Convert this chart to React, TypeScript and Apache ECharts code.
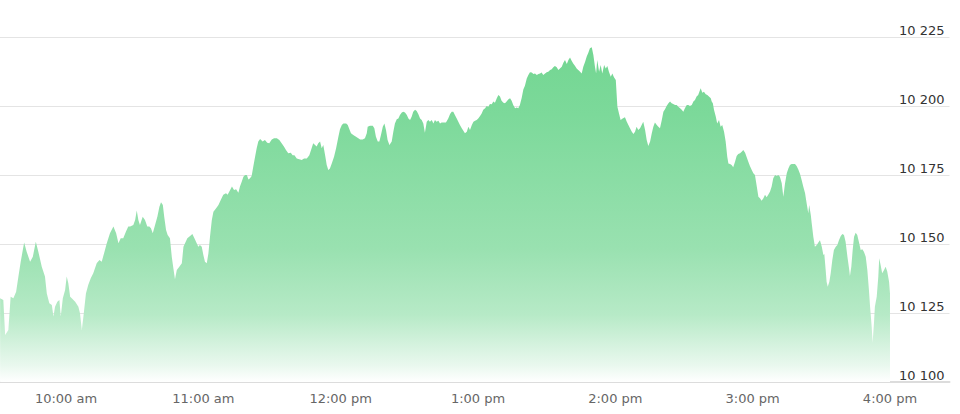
import React, { useEffect, useRef } from "react";
import * as echarts from "echarts";

// Trading time, in minutes after midnight (9:31 am ... 4:00 pm)
const times: number[] = [
  571.2, 572.6, 573.4, 574.8, 575.8, 577.0, 578.2, 579.2, 580.2, 581.7, 582.8, 584.3, 585.5, 586.8, 587.9, 589.4, 590.8, 591.6, 592.7, 593.8, 594.5, 595.2, 596.2, 597.1, 597.7, 598.6, 599.6, 600.3, 601.0, 601.8, 602.5, 604.0, 605.4, 606.1, 606.9, 607.6, 608.7, 609.7, 610.8, 611.9, 613.4, 614.6, 615.6, 616.6, 617.8, 619.2, 620.7, 621.9, 622.9, 623.9, 625.0, 626.2, 627.2,
  628.0, 629.4, 630.2, 630.9, 631.6, 632.3, 633.5, 634.5, 635.5, 636.4, 637.1, 637.9, 638.9, 639.9, 640.8, 641.5, 642.3, 642.9, 643.7, 644.4, 645.4, 646.2, 646.9, 647.6, 648.4, 649.5, 650.6, 651.3, 652.0, 653.0, 654.2, 655.2, 656.1, 657.1, 657.8, 658.5, 659.3, 660.0, 660.7, 661.5, 662.2, 662.9, 663.7, 664.4, 665.5, 666.6, 667.6, 668.7, 669.9, 670.6, 671.7, 672.5, 673.4, 674.3, 675.3, 676.0, 676.8, 677.5, 678.2, 679.0, 679.7, 680.4, 681.1, 681.8, 682.6, 683.3, 684.0,
  684.8, 685.9, 686.9, 687.9, 688.8, 689.9, 690.9, 692.1, 693.2, 694.2, 695.2, 696.1, 697.1, 698.2, 699.0, 699.8, 700.8, 701.9, 703.0, 704.0, 705.2, 706.3, 707.3, 708.0, 708.8, 709.5, 710.2, 711.0, 711.7, 712.4, 713.2, 713.9, 714.6, 715.3, 716.1, 717.1, 718.0, 719.0, 719.7, 720.5, 721.2, 722.4, 723.1, 723.8, 724.5, 725.5, 726.7, 727.7, 728.5, 729.6, 730.6, 731.4, 731.8, 732.8, 734.0, 734.7, 735.4, 736.2, 736.9, 737.6, 738.4, 739.1, 739.8, 740.5,
  741.3, 742.3, 743.0, 743.7, 744.5, 745.2, 745.9, 746.7, 747.4, 748.1, 748.9, 749.6, 750.3, 751.0, 751.7, 752.5, 753.2, 753.9, 754.7, 755.4, 756.1, 756.8, 757.6, 758.3, 759.0, 759.8, 760.5, 761.2, 761.9, 762.7, 763.4, 764.1, 764.8, 766.0, 767.0, 767.8, 768.5, 769.2, 769.9, 770.7, 771.4, 772.1, 772.9, 773.6, 774.3, 775.1, 775.8, 776.5, 777.3, 778.0, 778.7, 779.4, 780.1, 780.9, 781.6, 782.3, 783.1, 783.8, 784.5, 785.2, 786.0, 786.7, 787.4, 788.2, 788.9, 789.6, 790.3, 791.1, 791.8, 792.5, 793.2, 794.0, 794.7, 795.4, 796.2, 796.9, 797.6,
  798.3, 799.1, 799.8, 800.5, 801.3, 802.0, 802.7, 803.5, 804.2, 804.9, 805.7, 806.4, 807.1, 807.8, 808.5, 809.3, 810.0, 810.7, 811.5, 812.2, 812.9, 813.6, 814.4, 815.1, 815.8, 816.6, 817.3, 818.0, 818.8, 819.5, 820.2, 820.9, 821.6, 822.4, 823.1, 823.8, 824.6, 825.3, 826.0, 826.8, 827.5, 828.2, 828.9, 829.7, 830.4, 831.1, 831.6, 832.1, 832.9, 833.6, 834.3, 835.1, 835.8, 836.5, 837.2, 838.0, 838.7, 839.4, 840.2, 840.9, 841.6, 842.3, 843.2, 844.2, 845.0, 845.7, 846.4, 847.2, 847.9, 848.6, 849.3, 850.0, 850.8, 851.5, 852.2, 853.0, 853.7, 854.4,
  855.2, 855.9, 856.6, 857.3, 858.1, 858.8, 859.5, 860.3, 861.0, 861.7, 862.4, 863.2, 863.9, 864.6, 865.3, 866.1, 866.8, 867.5, 868.3, 869.0, 869.7, 870.4, 871.2, 871.9, 872.6, 873.4, 874.1, 874.8, 875.5, 876.2, 877.0, 877.3, 878.0, 878.7, 879.5, 880.2, 880.9, 881.7, 882.1, 882.6, 883.1, 883.9, 884.5, 885.3, 886.0, 886.7, 887.5, 888.2, 888.9, 889.4, 890.1, 890.8, 891.5, 892.3, 893.0, 893.7, 894.5, 895.2, 895.9, 896.7, 897.4, 898.1, 898.8, 899.6, 900.3, 901.0, 901.8, 902.5, 903.2, 903.9, 904.7, 905.4, 906.1, 906.8, 907.6, 908.3, 909.0, 909.8, 910.5, 911.2,
  911.9, 912.7, 913.4, 914.1, 914.9, 915.6, 916.3, 917.0, 917.7, 918.5, 919.2, 919.9, 920.7, 921.4, 922.1, 922.9, 923.6, 924.3, 924.7, 925.4, 925.8, 926.5, 927.2, 928.0, 928.7, 929.4, 930.2, 930.9, 931.3, 931.9, 932.3, 932.8, 933.5, 934.1, 934.8, 935.5, 936.3, 937.0, 937.7, 938.5, 939.2, 939.9, 940.6, 941.4, 942.1, 942.5, 943.1, 943.7, 944.3, 945.0, 945.7, 946.4, 947.2, 947.9, 948.6, 949.4, 950.1, 950.8, 951.3, 952.0, 952.4, 953.0, 953.4, 954.2, 954.9, 955.3, 955.9, 956.6, 957.4, 958.1, 958.8, 959.6, 960.0,
];

// Index level at each time
const levels: number[] = [
  10130.3, 10129.7, 10117.0, 10118.8, 10130.9, 10130.3, 10132.7, 10138.2, 10143.6, 10150.5, 10147.2, 10143.6, 10145.4, 10150.8, 10147.2, 10141.8, 10138.2, 10132.1, 10128.5, 10127.9, 10123.7, 10127.3, 10129.1, 10129.7, 10123.7, 10130.3, 10133.3, 10138.2, 10135.8, 10130.9, 10130.3, 10129.1, 10127.3, 10124.9, 10118.8, 10123.7, 10132.1, 10135.1, 10137.6, 10139.4, 10143.0, 10144.2, 10143.6, 10146.6, 10150.3, 10153.9, 10156.3, 10153.9, 10150.3, 10152.1, 10152.1, 10154.5, 10156.3,
  10156.3, 10156.9, 10158.7, 10162.1, 10158.7, 10156.9, 10159.9, 10158.7, 10156.3, 10156.3, 10155.7, 10153.9, 10156.9, 10159.9, 10163.5, 10165.1, 10164.1, 10159.9, 10155.1, 10153.3, 10152.1, 10145.4, 10141.2, 10137.2, 10140.6, 10141.8, 10143.0, 10149.0, 10150.3, 10152.1, 10152.9, 10153.6, 10152.1, 10150.3, 10149.0, 10149.6, 10149.0, 10146.0, 10143.6, 10143.0, 10146.6, 10152.6, 10158.7, 10161.7, 10162.9, 10164.1, 10165.9, 10167.8, 10168.4, 10167.8, 10169.6, 10170.8, 10169.6, 10169.8, 10168.6, 10170.8, 10172.6, 10174.4, 10175.0, 10175.0, 10173.4, 10173.8, 10174.6, 10178.0, 10181.6, 10184.7, 10187.1,
  10188.0, 10187.1, 10187.7, 10186.7, 10186.5, 10187.9, 10188.3, 10188.3, 10187.7, 10186.5, 10185.3, 10184.1, 10182.9, 10183.1, 10182.2, 10182.2, 10181.0, 10180.7, 10180.4, 10181.0, 10181.0, 10182.2, 10184.7, 10186.5, 10185.9, 10185.3, 10186.5, 10187.1, 10184.7, 10185.9, 10182.2, 10178.6, 10176.8, 10177.4, 10179.2, 10181.6, 10184.7, 10188.9, 10191.6, 10193.1, 10193.7, 10193.7, 10193.1, 10191.6, 10190.1, 10189.5, 10188.9, 10188.3, 10187.9, 10187.9, 10188.3, 10190.1, 10192.5, 10192.8, 10192.8, 10191.9, 10188.9, 10187.1, 10187.1, 10189.5, 10192.5, 10193.7, 10191.3, 10187.7,
  10185.9, 10187.1, 10190.7, 10193.7, 10195.2, 10195.5, 10196.7, 10197.6, 10197.9, 10197.6, 10196.7, 10195.5, 10194.9, 10196.1, 10197.9, 10198.6, 10198.2, 10197.1, 10195.5, 10194.9, 10193.7, 10190.3, 10194.3, 10194.9, 10194.3, 10194.9, 10193.7, 10194.9, 10194.3, 10194.7, 10193.7, 10194.0, 10194.0, 10194.0, 10195.5, 10197.1, 10197.9, 10197.9, 10196.7, 10195.5, 10194.3, 10193.1, 10191.9, 10191.0, 10190.1, 10190.7, 10192.5, 10191.3, 10193.1, 10194.3, 10194.7, 10194.9, 10195.5, 10196.4, 10197.3, 10198.6, 10199.2, 10200.0, 10199.7, 10200.7, 10200.6, 10201.6, 10201.2, 10202.8, 10204.0, 10203.4, 10201.9, 10201.2, 10201.0, 10201.6, 10202.4, 10202.8, 10201.9, 10200.4, 10199.2, 10199.5, 10199.2,
  10200.4, 10203.0, 10206.0, 10207.3, 10210.0, 10211.2, 10212.2, 10212.1, 10211.6, 10211.8, 10211.2, 10211.6, 10211.8, 10212.1, 10211.2, 10211.8, 10212.2, 10212.4, 10213.0, 10213.3, 10214.0, 10214.5, 10214.0, 10213.0, 10213.6, 10214.2, 10215.7, 10216.7, 10215.2, 10216.7, 10217.6, 10216.4, 10215.4, 10214.5, 10213.6, 10213.0, 10212.4, 10211.8, 10214.2, 10216.0, 10217.9, 10219.3, 10220.9, 10221.3, 10218.5, 10214.2, 10211.8, 10216.7, 10212.4, 10214.9, 10211.8, 10214.9, 10213.6, 10214.5, 10212.4, 10210.6, 10211.8, 10210.4, 10209.4, 10199.7, 10197.3, 10194.9, 10195.5, 10195.9, 10194.3, 10193.1, 10191.9, 10190.7, 10189.9, 10190.7, 10192.5, 10191.3, 10191.9, 10193.1, 10194.3, 10191.3, 10187.7, 10185.5,
  10187.1, 10190.0, 10192.5, 10194.0, 10193.1, 10192.5, 10191.9, 10194.9, 10197.9, 10198.8, 10200.0, 10201.0, 10201.6, 10201.0, 10200.7, 10200.4, 10200.4, 10199.7, 10199.2, 10198.6, 10197.9, 10199.2, 10200.4, 10200.4, 10200.0, 10200.4, 10201.6, 10202.2, 10203.4, 10204.0, 10205.8, 10206.4, 10204.8, 10205.2, 10204.3, 10204.0, 10203.4, 10202.8, 10201.6, 10201.0, 10198.6, 10196.1, 10193.7, 10194.9, 10192.5, 10193.1, 10190.7, 10187.1, 10181.6, 10179.2, 10179.0, 10178.6, 10177.8, 10179.8, 10181.9, 10182.6, 10182.9, 10183.4, 10184.1, 10183.1, 10181.4, 10179.8, 10178.3, 10176.8, 10175.6, 10175.0, 10170.8, 10167.1, 10166.6, 10165.7, 10166.6, 10167.8, 10166.9, 10167.8, 10169.0, 10170.8, 10173.8, 10175.0, 10174.6, 10175.0,
  10174.4, 10172.0, 10167.1, 10171.7, 10175.6, 10177.4, 10178.6, 10179.0, 10179.0, 10179.0, 10178.3, 10177.1, 10175.4, 10173.2, 10170.8, 10168.4, 10164.7, 10161.1, 10164.1, 10160.5, 10157.5, 10152.6, 10149.0, 10149.6, 10150.5, 10151.4, 10149.0, 10146.0, 10146.4, 10140.6, 10136.3, 10134.5, 10136.3, 10139.4, 10144.2, 10147.8, 10149.0, 10149.6, 10151.4, 10152.9, 10153.6, 10153.3, 10150.8, 10145.4, 10141.2, 10138.4, 10141.8, 10147.8, 10152.6, 10154.1, 10153.3, 10150.8, 10147.8, 10148.1, 10147.2, 10145.4, 10140.6, 10133.3, 10127.3, 10120.0, 10114.2, 10121.3, 10127.3, 10130.9, 10138.2, 10144.8, 10142.4, 10139.4, 10140.6, 10141.8, 10140.0, 10136.3, 10132.1,
];

// Axis scales
const yMin = 10100;
const yMax = 10225;
const yStep = 25;
const xMin = 540; // 9:00, multiple of the hourly interval
const xMax = 986;
const xStep = 60;
const hourTickLabels: Record<number, string> = {
  600: "10:00 am",
  660: "11:00 am",
  720: "12:00 pm",
  780: "1:00 pm",
  840: "2:00 pm",
  900: "3:00 pm",
  960: "4:00 pm",
};

const FONT = "DejaVu Sans";

export default function App() {
  const ref = useRef<HTMLDivElement>(null);

  useEffect(() => {
    if (!ref.current) return;
    const chart = echarts.init(ref.current, undefined, { renderer: "svg" });
    const n = Math.min(times.length, levels.length);
    const data: [number, number][] = [];
    for (let i = 0; i < n; i++) data.push([times[i], levels[i]]);

    chart.setOption({
      animation: false,
      backgroundColor: "#ffffff",
      grid: {
        left: -71.3,
        right: 10.5,
        top: 37,
        bottom: 32,
        containLabel: false,
        outerBoundsMode: "none",
      },
      xAxis: {
        type: "value",
        min: xMin,
        max: xMax,
        interval: xStep,
        axisLine: { show: true, lineStyle: { color: "#dcdcdc", width: 2 } },
        axisTick: { show: false },
        splitLine: { show: false },
        axisLabel: {
          show: true,
          margin: 10,
          color: "#666666",
          fontFamily: FONT,
          fontSize: 13,
          showMinLabel: true,
          showMaxLabel: true,
          formatter: (v: number) => hourTickLabels[Math.round(v)] ?? "",
        },
      },
      yAxis: {
        type: "value",
        position: "right",
        min: yMin,
        max: yMax,
        interval: yStep,
        axisLine: { show: false },
        axisTick: { show: false },
        splitLine: { show: true, lineStyle: { color: "#e4e4e4", width: 1 } },
        axisLabel: {
          inside: true,
          margin: 5,
          color: "#333333",
          fontFamily: FONT,
          fontSize: 13,
          verticalAlign: "bottom",
          formatter: (v: number) =>
            String(v).replace(/\B(?=(\d{3})+(?!\d))/g, " "),
        },
      },
      series: [
        {
          type: "line",
          data,
          symbol: "none",
          showSymbol: false,
          silent: true,
          lineStyle: { width: 0 },
          areaStyle: {
            origin: "start",
            opacity: 1,
            color: new echarts.graphic.LinearGradient(0, 0, 0, 1, [
              { offset: 0, color: "#73d692" },
              { offset: 0.2, color: "#7cd99a" },
              { offset: 0.6, color: "#99e1b0" },
              { offset: 0.8, color: "#b7eac7" },
              { offset: 0.95, color: "#e9f8ee" },
              { offset: 1, color: "#ffffff" },
            ]),
          },
        },
      ],
    });

    return () => chart.dispose();
  }, []);

  return (
    <div
      ref={ref}
      style={{ position: "absolute", left: 0, top: 0, width: 960, height: 414 }}
    />
  );
}
